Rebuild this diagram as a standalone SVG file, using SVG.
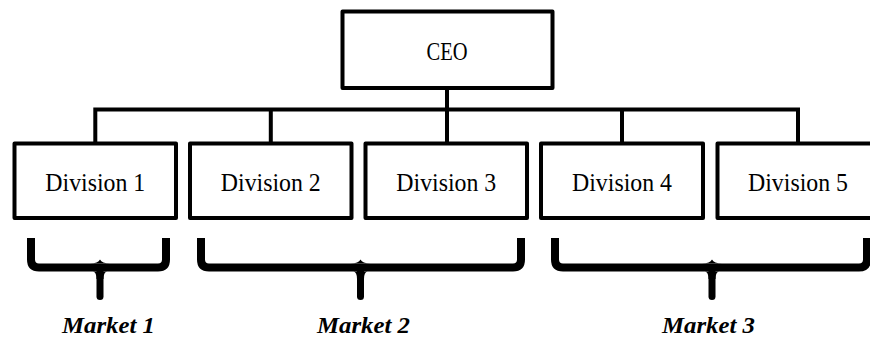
<svg xmlns="http://www.w3.org/2000/svg" width="870" height="339" viewBox="0 0 870 339">
<style>
.box{fill:#fff;stroke:#000;stroke-width:4;stroke-linejoin:round}
.lbl{font-family:"Liberation Serif","Times New Roman",serif;font-size:25px;fill:#000;text-anchor:middle}
.mkt{font-family:"Liberation Serif","Times New Roman",serif;font-size:24px;font-weight:bold;font-style:italic;fill:#000;text-anchor:middle}
.conn{fill:none;stroke:#000;stroke-width:4;stroke-linecap:square}
.brace{fill:none;stroke:#000;stroke-width:8;stroke-linejoin:round}
.stem{fill:none;stroke:#000;stroke-width:7;stroke-linecap:round}
</style>
<rect width="870" height="339" fill="#fff"/>
<g id="connectors">
<path class="conn" d="M447,88 V109.5 M95.3,109.5 H798 M95.3,109.5 V143.5 M270.8,109.5 V143.5 M447,109.5 V143.5 M622,109.5 V143.5 M798,109.5 V143.5"/>
</g>
<g id="ceo">
<rect class="box" x="342.5" y="11.5" width="210" height="76.5"/>
<text class="lbl" x="447" y="60" textLength="41" lengthAdjust="spacingAndGlyphs">CEO</text>
</g>
<g id="division1">
<rect class="box" x="14.5" y="143.5" width="161.5" height="74.5"/>
<text class="lbl" x="95.3" y="190.7" textLength="100" lengthAdjust="spacingAndGlyphs">Division 1</text>
</g>
<g id="division2">
<rect class="box" x="190" y="143.5" width="161.5" height="74.5"/>
<text class="lbl" x="270.8" y="190.7" textLength="100" lengthAdjust="spacingAndGlyphs">Division 2</text>
</g>
<g id="division3">
<rect class="box" x="365.5" y="143.5" width="161.5" height="74.5"/>
<text class="lbl" x="446.3" y="190.7" textLength="100" lengthAdjust="spacingAndGlyphs">Division 3</text>
</g>
<g id="division4">
<rect class="box" x="541" y="143.5" width="162" height="74.5"/>
<text class="lbl" x="622" y="190.7" textLength="100" lengthAdjust="spacingAndGlyphs">Division 4</text>
</g>
<g id="division5">
<rect class="box" x="717.5" y="143.5" width="162" height="74.5"/>
<text class="lbl" x="798" y="190.7" textLength="100" lengthAdjust="spacingAndGlyphs">Division 5</text>
</g>
<g id="market1">
<path class="brace" d="M31,238 V259.5 Q31,267.5 39,267.5 H158 Q166,267.5 166,259.5 V238"/>
<path d="M90,263.6 Q98,263.6 100,259.5 Q102,263.6 110,263.6 Z M93,271.4 Q96.5,272 96.5,279 L103.5,279 Q103.5,272 107,271.4 Z" fill="#000"/>
<path class="stem" d="M100,270 V296.5"/>
<text class="mkt" x="108.5" y="333" textLength="93" lengthAdjust="spacingAndGlyphs">Market 1</text>
</g>
<g id="market2">
<path class="brace" d="M201,238 V259.5 Q201,267.5 209,267.5 H513 Q521,267.5 521,259.5 V238"/>
<path d="M350.5,263.6 Q358.5,263.6 360.5,259.5 Q362.5,263.6 370.5,263.6 Z M353.5,271.4 Q357,272 357,279 L364,279 Q364,272 367.5,271.4 Z" fill="#000"/>
<path class="stem" d="M360.5,270 V296.5"/>
<text class="mkt" x="363.5" y="333" textLength="93" lengthAdjust="spacingAndGlyphs">Market 2</text>
</g>
<g id="market3">
<path class="brace" d="M555,238 V259.5 Q555,267.5 563,267.5 H859 Q867,267.5 867,259.5 V238"/>
<path d="M702,263.6 Q710,263.6 712,259.5 Q714,263.6 722,263.6 Z M705,271.4 Q708.5,272 708.5,279 L715.5,279 Q715.5,272 719,271.4 Z" fill="#000"/>
<path class="stem" d="M712,270 V296.5"/>
<text class="mkt" x="708.5" y="333" textLength="93" lengthAdjust="spacingAndGlyphs">Market 3</text>
</g>
</svg>
